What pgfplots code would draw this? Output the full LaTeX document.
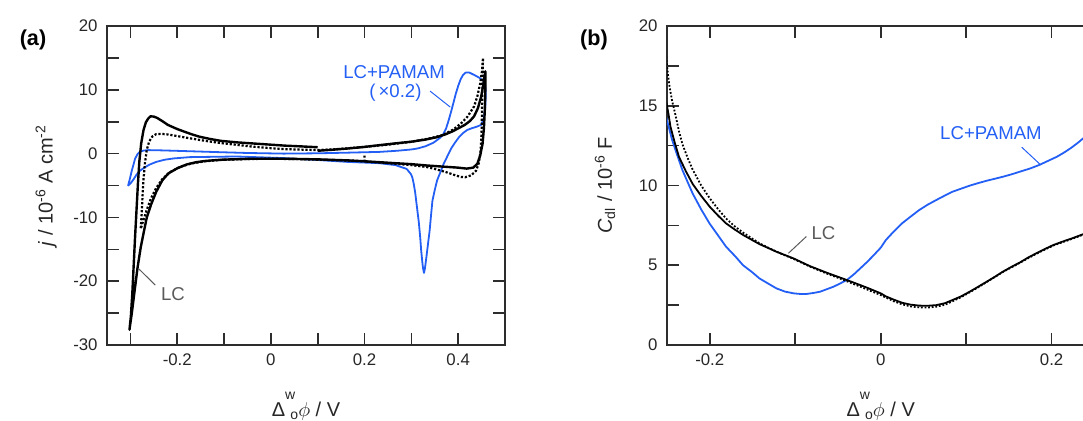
\documentclass[border=0pt]{standalone}
\usepackage{fontspec}
\setmainfont{Liberation Sans}
\usepackage{amsmath}
\usepackage{pgfplots}
\pgfplotsset{compat=1.18}
\definecolor{cvblue}{RGB}{35,95,245}
\definecolor{axgray}{RGB}{45,45,45}
\definecolor{lblgray}{RGB}{90,90,90}

\newcommand{\potlabel}{Δ\raisebox{8.3pt}{\fontsize{7}{8}\selectfont w}\kern-2.4pt\raisebox{-1.9pt}{\fontsize{7}{8}\selectfont o}$\phi$ / V}

\pgfplotsset{
  panel/.style={
    scale only axis, height=159.5pt,
    axis line style={axgray, line width=0.9pt},
    tick style={axgray, line width=0.8pt},
    major tick length=5.8pt, minor tick length=5.8pt,
    tick align=inside,
    scaled ticks=false,
    /pgf/number format/assume math mode=true,
    ticklabel style={font=\fontsize{8.4}{10}\selectfont, text=black!85},
    xticklabel style={yshift=-0.7pt},
    yticklabel style={xshift=-1.2pt},
    label style={font=\fontsize{10}{12}\selectfont, text=black!85},
    xlabel style={at={(axis description cs:0.5,0)}, anchor=base, yshift=-35.5pt},
    xlabel={\potlabel},
  },
  lcsolid/.style={black, line width=1.2pt, line join=round},
  lcdot/.style={black, line width=1.1pt, dash pattern=on 1.1pt off 0.9pt},
  pam/.style={cvblue, line width=0.9pt, line join=round},
}

\begin{document}
\begin{tikzpicture}
\useasboundingbox (0,0) rectangle (541.5pt,210pt);

% (a) cyclic voltammograms
\begin{axis}[panel, at={(53.5pt,37.5pt)}, anchor=south west, width=199pt,
  xmin=-0.35, xmax=0.5, ymin=-30, ymax=20,
  xtick={-0.2,0,0.2,0.4}, minor xtick={-0.3,-0.1,0.1,0.3},
  ytick={-30,-20,-10,0,10,20}, minor ytick={-25,-15,-5,5,15},
  ylabel={\textit{j} / 10\textsuperscript{-6} A cm\textsuperscript{-2}},
  ylabel style={at={(axis description cs:-0.153,0.5)}, anchor=center}]

\addplot[pam] coordinates {
(-0.305,-5.05) (-0.301,-3.9) (-0.297,-2.66) (-0.293,-1.6) (-0.29,-0.8) (-0.285,-0.1)
(-0.28,0.27) (-0.272,0.48) (-0.262,0.55) (-0.24,0.52) (-0.207,0.45) (-0.15,0.32)
(-0.107,0.22) (-0.05,0.1) (0.027,0.0) (0.1,0.05) (0.164,0.15) (0.232,0.27)
(0.27,0.45) (0.3,0.65) (0.313,0.8) (0.33,1.15) (0.347,1.7) (0.36,2.4) (0.367,2.9)
(0.374,3.9) (0.38,5.3) (0.385,6.6) (0.39,8.0) (0.395,9.4) (0.4,10.6) (0.405,11.6)
(0.41,12.3) (0.416,12.7) (0.424,12.7) (0.435,12.3) (0.445,11.9) (0.452,11.5) (0.457,11.2)
(0.459,9.5) (0.458,7.5) (0.455,5.6) (0.449,4.5) (0.439,4.2) (0.43,4.0) (0.419,3.7)
(0.41,3.2) (0.402,2.6) (0.393,1.7) (0.385,0.8) (0.377,-0.4) (0.369,-1.6) (0.362,-2.9)
(0.355,-4.2) (0.35,-5.7) (0.345,-7.4) (0.342,-9.7) (0.339,-12.1) (0.335,-14.5)
(0.332,-16.3) (0.329,-18.0) (0.327,-18.7) (0.325,-18.0) (0.324,-17.4) (0.321,-15.2)
(0.319,-13.2) (0.316,-10.8) (0.312,-8.4) (0.308,-6.0) (0.305,-4.7) (0.302,-3.7)
(0.299,-3.2) (0.29,-2.4) (0.266,-1.8) (0.232,-1.5) (0.164,-1.3) (0.1,-1.0)
(0.027,-0.7) (-0.073,-0.45) (-0.173,-0.55) (-0.207,-0.75) (-0.227,-0.96)
(-0.245,-1.3) (-0.26,-1.75) (-0.27,-2.2) (-0.28,-2.7) (-0.287,-3.3) (-0.293,-4.0)
(-0.299,-4.6) (-0.305,-5.05)
};

\addplot[lcdot] coordinates {
(0.2,-0.3) (0.2,-1.2) (0.15,-1.05) (0.1,-0.95) (0.05,-0.85) (0.0,-0.8) (-0.05,-0.85)
(-0.1,-0.95) (-0.14,-1.2) (-0.17,-1.55) (-0.195,-2.1) (-0.215,-2.9) (-0.232,-4.0)
(-0.245,-5.4) (-0.256,-7.0) (-0.265,-8.8) (-0.272,-10.4) (-0.278,-11.8)
(-0.276,-9.5) (-0.274,-6.5) (-0.272,-4.0) (-0.269,-1.5) (-0.265,0.6) (-0.26,1.9)
(-0.253,2.7) (-0.245,3.05) (-0.235,3.1) (-0.22,3.0) (-0.2,2.75) (-0.173,2.4)
(-0.14,2.0) (-0.107,1.65) (-0.07,1.35) (-0.04,1.1) (0.0,0.85) (0.03,0.7) (0.1,0.55)
(0.15,0.75) (0.2,1.05) (0.25,1.4) (0.3,1.85) (0.34,2.4) (0.367,2.9) (0.39,3.8)
(0.407,4.8) (0.42,5.8) (0.434,7.4) (0.441,9) (0.447,11) (0.451,13) (0.453,15.0)
(0.452,11) (0.451,7) (0.45,3.5) (0.448,0.5) (0.444,-1.5) (0.438,-2.7) (0.428,-3.4)
(0.415,-3.7) (0.405,-3.65) (0.39,-3.3) (0.374,-2.9) (0.35,-2.4) (0.333,-2.1)
(0.3,-1.8) (0.25,-1.5) (0.2,-1.25)
};

\addplot[lcsolid] coordinates {
(0.1,0.45) (0.13,0.6) (0.164,0.8) (0.2,1.05) (0.232,1.33) (0.265,1.6) (0.299,1.86)
(0.33,2.2) (0.353,2.55) (0.372,3.0) (0.387,3.46) (0.4,3.95) (0.414,4.5) (0.425,5.1)
(0.434,5.85) (0.442,7.1) (0.449,8.9) (0.453,10.5) (0.456,12) (0.458,12.9)
(0.458,10) (0.457,7) (0.455,4) (0.452,1.5) (0.447,-0.3) (0.441,-1.6) (0.432,-2.2)
(0.418,-2.35) (0.4,-2.2) (0.37,-2.05) (0.333,-1.86) (0.3,-1.65) (0.266,-1.5)
(0.2,-1.2) (0.164,-1.06) (0.1,-0.9) (0.029,-0.8) (-0.04,-0.8) (-0.107,-0.96)
(-0.14,-1.15) (-0.16,-1.35) (-0.18,-1.7) (-0.2,-2.3) (-0.219,-3.1) (-0.232,-4.2)
(-0.245,-6.0) (-0.256,-8.0) (-0.265,-10.0) (-0.272,-12.5) (-0.278,-14.7)
(-0.285,-18) (-0.291,-21.5) (-0.297,-25) (-0.302,-27.6)
(-0.299,-25.5) (-0.296,-22.0) (-0.293,-17.5) (-0.29,-13.0) (-0.287,-8.9)
(-0.284,-4.8) (-0.281,-1.3) (-0.277,1.6) (-0.272,3.7) (-0.267,4.9) (-0.262,5.5)
(-0.257,5.85) (-0.25,5.8) (-0.243,5.6) (-0.232,5.1) (-0.22,4.5) (-0.2,3.85)
(-0.187,3.5) (-0.17,3.05) (-0.153,2.66) (-0.13,2.3) (-0.107,2.0) (-0.07,1.75)
(-0.04,1.6) (0.0,1.4) (0.03,1.25) (0.06,1.15) (0.1,1.0)
};

\node[cvblue, font=\fontsize{9.3}{11}\selectfont] at (axis cs:0.263,12.7) {LC+PAMAM};
\node[cvblue, font=\fontsize{9.3}{11}\selectfont] at (axis cs:0.266,9.5) {(\,×0.2)};
\draw[cvblue, line width=0.5pt] (axis cs:0.34,9.8) -- (axis cs:0.383,7.3);
\node[lblgray, font=\fontsize{9.3}{11}\selectfont] at (axis cs:-0.209,-22.0) {LC};
\draw[lblgray, line width=0.5pt] (axis cs:-0.247,-20.6) -- (axis cs:-0.283,-18.0);
\end{axis}

% (b) double layer capacitance
\begin{axis}[panel, at={(333.5pt,37.5pt)}, anchor=south west, width=213.7pt,
  xmin=-0.25, xmax=0.25, ymin=0, ymax=20,
  xtick={-0.2,0,0.2}, minor xtick={-0.1,0.1},
  ytick={0,5,10,15,20}, minor ytick={2.5,7.5,12.5,17.5},
  ylabel={\textit{C}\textsubscript{dl} / 10\textsuperscript{-6} F},
  ylabel style={at={(axis description cs:-0.145,0.5)}, anchor=center}]

\addplot[pam] coordinates {
(-0.251,14.3) (-0.244,12.85) (-0.238,11.9) (-0.232,10.97) (-0.22,9.5) (-0.21,8.5)
(-0.2,7.6) (-0.19,6.85) (-0.181,6.17) (-0.17,5.55) (-0.161,5.0) (-0.15,4.55)
(-0.142,4.18) (-0.13,3.8) (-0.122,3.55) (-0.112,3.35) (-0.102,3.24) (-0.094,3.2)
(-0.087,3.2) (-0.079,3.26) (-0.071,3.34) (-0.063,3.5) (-0.055,3.66) (-0.047,3.87)
(-0.039,4.1) (-0.031,4.45) (-0.024,4.8) (-0.016,5.2) (-0.008,5.64) (0.0,6.1)
(0.006,6.58) (0.015,7.1) (0.025,7.63) (0.035,8.05) (0.045,8.46) (0.055,8.8)
(0.065,9.09) (0.075,9.37) (0.084,9.61) (0.094,9.8) (0.104,9.99) (0.114,10.15)
(0.124,10.3) (0.134,10.43) (0.143,10.55) (0.153,10.7) (0.163,10.87) (0.175,11.07)
(0.186,11.3) (0.196,11.55) (0.206,11.8) (0.214,12.05) (0.222,12.33) (0.23,12.65)
(0.237,12.96) (0.245,13.3) (0.25,13.55)
};

\addplot[black, line width=0.9pt, dash pattern=on 0.9pt off 0.9pt] coordinates {
(-0.251,18.1) (-0.249,17.0) (-0.247,16.2) (-0.244,15.3) (-0.24,14.4) (-0.236,13.4)
(-0.232,12.6) (-0.226,11.75) (-0.22,11.0) (-0.21,10.0) (-0.2,9.2) (-0.19,8.5)
(-0.181,7.94) (-0.171,7.45) (-0.161,7.05) (-0.142,6.38) (-0.122,5.85) (-0.102,5.4)
(-0.083,4.92) (-0.063,4.48) (-0.043,4.07) (-0.024,3.66) (0.0,3.13) (0.015,2.75)
(0.025,2.55) (0.035,2.42) (0.045,2.36) (0.055,2.35) (0.065,2.4) (0.075,2.52)
(0.084,2.74) (0.094,3.0) (0.104,3.3) (0.114,3.62) (0.124,3.95) (0.143,4.58)
(0.163,5.16) (0.182,5.72) (0.202,6.24) (0.222,6.62) (0.237,6.92) (0.25,7.17)
};

\addplot[black, line width=0.9pt, line join=round] coordinates {
(-0.251,15.3) (-0.248,14.4) (-0.246,13.7) (-0.241,12.7) (-0.236,11.8) (-0.228,10.9)
(-0.22,10.1) (-0.21,9.35) (-0.2,8.67) (-0.19,8.1) (-0.181,7.63) (-0.171,7.25)
(-0.161,6.9) (-0.142,6.33) (-0.122,5.85) (-0.102,5.43) (-0.083,4.95) (-0.063,4.53)
(-0.043,4.14) (-0.024,3.76) (-0.014,3.55) (0.0,3.24) (0.006,3.05) (0.015,2.85)
(0.025,2.65) (0.035,2.53) (0.045,2.47) (0.055,2.46) (0.065,2.5) (0.075,2.62)
(0.084,2.82) (0.094,3.05) (0.104,3.34) (0.114,3.65) (0.124,3.97) (0.134,4.29)
(0.143,4.6) (0.153,4.9) (0.163,5.18) (0.172,5.47) (0.182,5.75) (0.192,6.02)
(0.202,6.27) (0.212,6.47) (0.222,6.65) (0.237,6.95) (0.25,7.2)
};

\node[cvblue, font=\fontsize{9.3}{11}\selectfont] at (axis cs:0.129,13.27) {LC+PAMAM};
\draw[cvblue, line width=0.5pt] (axis cs:0.165,12.4) -- (axis cs:0.186,11.35);
\node[lblgray, font=\fontsize{9.3}{11}\selectfont] at (axis cs:-0.067,7.0) {LC};
\draw[lblgray, line width=0.5pt] (axis cs:-0.087,6.8) -- (axis cs:-0.108,5.75);
\end{axis}

\node[font=\bfseries\fontsize{10.8}{12}\selectfont] at (16.5pt,190pt) {(a)};
\node[font=\bfseries\fontsize{10.8}{12}\selectfont] at (297pt,190pt) {(b)};
\end{tikzpicture}
\end{document}
